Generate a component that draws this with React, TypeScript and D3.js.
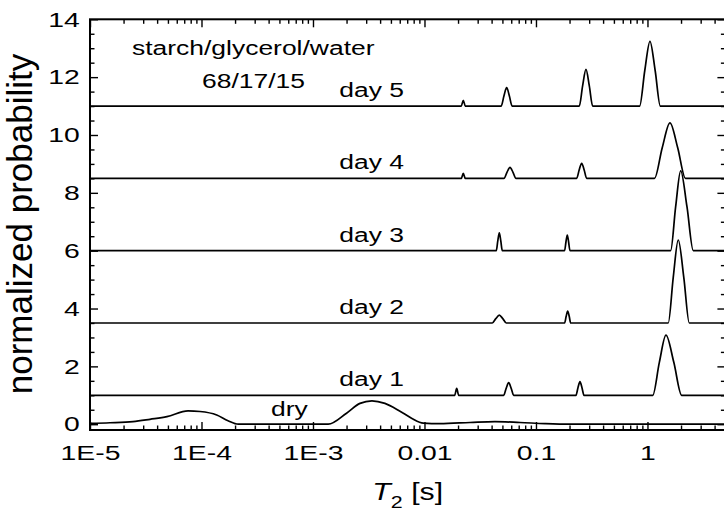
import { useEffect, useRef } from "react";
import * as d3 from "d3";

const WIDTH = 724;
const HEIGHT = 517;

// x axis: T2 in seconds (log)
const t2Ticks = [1e-5, 1e-4, 1e-3, 0.01, 0.1, 1];
const t2TickLabels = ["1E-5", "1E-4", "1E-3", "0.01", "0.1", "1"];
const t2Domain = [1e-5, 5];

// y axis: normalized probability
const probTicks = [0, 2, 4, 6, 8, 10, 12, 14];
const probDomain = [-0.2, 14];

// dry sample (offset 0)
const dryT2 = [1e-5, 1.51e-5, 2.43e-5, 3.45e-5, 4.9e-5, 7.57e-5, 9.7e-5, 1.37e-4, 1.73e-4, 2.14e-4,
  1.37e-3, 2.0e-3, 2.64e-3, 3.38e-3, 4.42e-3, 6.03e-3, 7.72e-3, 9.76e-3,
  0.01377, 0.0256, 0.0429, 0.0719, 0.1205, 0.2, 5];
const dryP = [0.03, 0.05, 0.09, 0.17, 0.26, 0.46, 0.44, 0.32, 0.12, 0,
  0, 0.38, 0.72, 0.81, 0.72, 0.45, 0.2, 0.04,
  0.02, 0.06, 0.09, 0.06, 0.02, 0, 0];

const day1T2 = [1e-5, 0.01866, 0.01945, 0.02027, 0.05131, 0.05404, 0.05691, 0.05994, 0.06313,
  0.2284, 0.2380, 0.2481, 0.2586, 0.2695, 1.114, 1.278, 1.4655, 1.723, 2.027, 5];
const day1P = [0, 0, 0.24, 0, 0, 0.24, 0.44, 0.24, 0,
  0, 0.26, 0.47, 0.26, 0, 0, 1.14, 2.08, 1.14, 0, 0];

const day2T2 = [1e-5, 0.04054, 0.0436, 0.04689, 0.05039, 0.0542, 0.1808, 0.1866, 0.1924, 0.1986, 0.2048,
  1.535, 1.703, 1.8886, 2.117, 2.3725, 5];
const day2P = [0, 0, 0.15, 0.27, 0.15, 0, 0, 0.23, 0.41, 0.23, 0,
  0, 1.58, 2.87, 1.58, 0, 0];

const day3T2 = [1e-5, 0.04405, 0.04545, 0.04689, 0.04835, 0.04988, 0.1806, 0.1857, 0.1909, 0.1962, 0.2017,
  1.6136, 1.7897, 1.9855, 2.261, 2.5755, 5];
const day3P = [0, 0, 0.34, 0.62, 0.34, 0, 0, 0.3, 0.54, 0.3, 0,
  0, 1.52, 2.76, 1.52, 0, 0];

const day4T2 = [1e-5, 0.02138, 0.02228, 0.02323, 0.05161, 0.05494, 0.05846, 0.06221, 0.0662,
  0.2317, 0.244, 0.257, 0.2706, 0.285, 1.1555, 1.3564, 1.5914, 1.867, 2.1918, 5];
const day4P = [0, 0, 0.17, 0, 0, 0.21, 0.38, 0.21, 0,
  0, 0.29, 0.52, 0.29, 0, 0, 1.06, 1.92, 1.06, 0, 0];

const day5T2 = [1e-5, 0.02138, 0.02228, 0.02323, 0.04875, 0.05158, 0.05458, 0.05774, 0.06109,
  0.2446, 0.262, 0.2808, 0.3009, 0.3224, 0.85, 0.9461, 1.0529, 1.172, 1.3045, 5];
const day5P = [0, 0, 0.2, 0, 0, 0.35, 0.64, 0.35, 0,
  0, 0.7, 1.27, 0.7, 0, 0, 1.23, 2.24, 1.23, 0, 0];

const dayLabels = ["day 1", "day 2", "day 3", "day 4", "day 5"];
const dayOffsets = [1, 3.5, 6, 8.5, 11];
const daySeries = [[day1T2, day1P], [day2T2, day2P], [day3T2, day3P], [day4T2, day4P], [day5T2, day5P]];

const FONT = "'Liberation Sans', Arial, Helvetica, sans-serif";
const FS = 21;        // text size
const SX = 1.26;      // the figure's text is wider than plain Arial
const TICK_SX = 1.35;

function Chart() {
  const ref = useRef<SVGSVGElement>(null);

  useEffect(() => {
    const svg = d3.select(ref.current);
    svg.selectAll("*").remove();

    const left = 90, right = 725.4, top = 19.3, bottom = 430;

    const x = d3.scaleLog().domain(t2Domain).range([left, right]);
    const y = d3.scaleLinear().domain(probDomain).range([bottom, top]);

    // minor ticks
    const xMinor: number[] = [];
    for (let e = -5; e <= 0; e++) {
      for (let m = 2; m <= 9; m++) {
        const v = m * Math.pow(10, e);
        if (v < t2Domain[1]) xMinor.push(v);
      }
    }
    const yMinor: number[] = [];
    for (let v = 0.5; v < 14; v += 0.5) if (v % 2 !== 0) yMinor.push(v);

    const styleAxis = (g: any) => {
      g.select(".domain").remove();
      g.selectAll("line").attr("stroke", "#000").attr("stroke-width", 1.4);
      g.selectAll("text")
        .attr("font-family", FONT).attr("font-size", FS).attr("fill", "#000")
        .attr("transform", `scale(${TICK_SX},1)`);
    };

    // bottom
    svg.append("g").attr("transform", `translate(0,${bottom})`)
      .call(d3.axisBottom(x).tickValues(t2Ticks).tickSize(-8).tickPadding(15)
        .tickFormat((d, i) => t2TickLabels[i]))
      .call(styleAxis);
    svg.append("g").attr("transform", `translate(0,${bottom})`)
      .call(d3.axisBottom(x).tickValues(xMinor).tickSize(-4.5).tickFormat(() => ""))
      .call(styleAxis);
    // top
    svg.append("g").attr("transform", `translate(0,${top})`)
      .call(d3.axisTop(x).tickValues(t2Ticks).tickSize(-8).tickFormat(() => ""))
      .call(styleAxis);
    svg.append("g").attr("transform", `translate(0,${top})`)
      .call(d3.axisTop(x).tickValues(xMinor).tickSize(-4.5).tickFormat(() => ""))
      .call(styleAxis);
    // left
    svg.append("g").attr("transform", `translate(${left},0)`)
      .call(d3.axisLeft(y).tickValues(probTicks).tickSize(-8).tickPadding(7.5))
      .call(styleAxis);
    svg.append("g").attr("transform", `translate(${left},0)`)
      .call(d3.axisLeft(y).tickValues(yMinor).tickSize(-4.5).tickFormat(() => ""))
      .call(styleAxis);
    // right
    svg.append("g").attr("transform", `translate(${right},0)`)
      .call(d3.axisRight(y).tickValues(probTicks).tickSize(-8).tickFormat(() => ""))
      .call(styleAxis);
    svg.append("g").attr("transform", `translate(${right},0)`)
      .call(d3.axisRight(y).tickValues(yMinor).tickSize(-4.5).tickFormat(() => ""))
      .call(styleAxis);

    svg.append("rect")
      .attr("x", left).attr("y", top)
      .attr("width", right - left).attr("height", bottom - top)
      .attr("fill", "none").attr("stroke", "#000").attr("stroke-width", 2);

    const line = d3.line<[number, number]>()
      .x(d => x(d[0]))
      .y(d => y(d[1]))
      .curve(d3.curveMonotoneX);

    const plot = svg.append("g");

    plot.append("path")
      .datum(dryT2.map((t, i) => [t, dryP[i]] as [number, number]))
      .attr("d", line)
      .attr("fill", "none").attr("stroke", "#000").attr("stroke-width", 1.7);

    daySeries.forEach(([ts, ps], k) => {
      plot.append("path")
        .datum(ts.map((t, i) => [t, ps[i] + dayOffsets[k]] as [number, number]))
        .attr("d", line)
        .attr("fill", "none").attr("stroke", "#000").attr("stroke-width", 1.7)
        .attr("stroke-linejoin", "round");
    });

    const label = (tx: number, ty: number, s: string, anchor = "start", size = FS) =>
      plot.append("text")
        .attr("transform", `translate(${tx},${ty}) scale(${SX},1)`)
        .attr("text-anchor", anchor)
        .attr("font-family", FONT).attr("font-size", size)
        .text(s);

    dayLabels.forEach((s, i) => label(404, y(dayOffsets[i]) - 9, s, "end"));
    label(271, y(0) - 8, "dry");
    label(132, 55, "starch/glycerol/water");
    label(202, 88, "68/17/15");

    // axis titles
    svg.append("text")
      .attr("transform", `translate(32,224) rotate(-90)`)
      .attr("text-anchor", "middle")
      .attr("font-family", FONT).attr("font-size", 35)
      .text("normalized probability");

    const xt = svg.append("text")
      .attr("transform", `translate(${(left + right) / 2},500) scale(${SX},1)`)
      .attr("text-anchor", "middle")
      .attr("font-family", FONT).attr("font-size", 24);
    xt.append("tspan").attr("font-style", "italic").text("T");
    xt.append("tspan").attr("font-size", 17).attr("dy", 8).text("2");
    xt.append("tspan").attr("dy", -8).text(" [s]");
  }, []);

  return <svg ref={ref} width={WIDTH} height={HEIGHT} style={{ position: "absolute", left: 0, top: 0, background: "#fff" }} />;
}

export default function App() {
  return <Chart />;
}
